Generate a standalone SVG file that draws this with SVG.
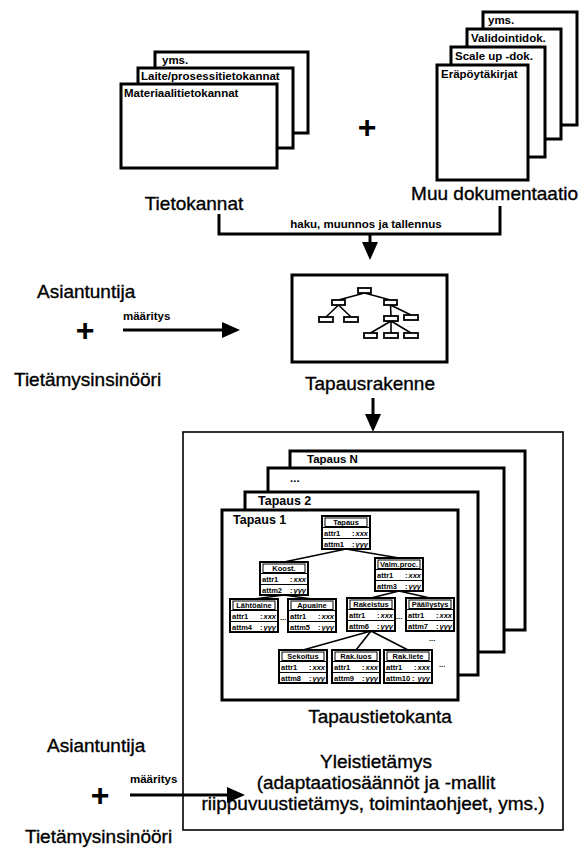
<svg xmlns="http://www.w3.org/2000/svg" width="580" height="849" viewBox="0 0 580 849">
<style>
text { font-family: "Liberation Sans", Arial, sans-serif; fill: #000; }
.lbl { font-size: 19px; stroke: #000; stroke-width: 0.35; }
.sm { font-size: 11.5px; font-weight: bold; }
.plus { font-size: 32px; font-weight: bold; text-anchor: middle; }
.page { fill: #fff; stroke: #000; stroke-width: 3; }
.outer { fill: none; stroke: #000; stroke-width: 1.6; }
.conn { fill: none; stroke: #000; stroke-width: 3; }
.mini { fill: #fff; stroke: #000; stroke-width: 1.8; }
.edge { fill: none; stroke: #000; stroke-width: 1.6; }
.no { fill: #fff; stroke: #000; stroke-width: 2; }
.ni { fill: none; stroke: #000; stroke-width: 1; }
.nl { stroke: #000; stroke-width: 1.2; }
.nt { font-size: 7.5px; font-weight: bold; text-anchor: middle; }
.na { font-size: 7.5px; font-weight: bold; }
.nr { font-size: 7.5px; font-weight: bold; text-anchor: end; font-style: italic; }
</style>
<defs>
<marker id="ah" markerUnits="userSpaceOnUse" markerWidth="18" markerHeight="16" refX="8" refY="8" orient="auto">
<path d="M0,0 L18,8 L0,16 z" fill="#000"/>
</marker>
<g id="nodeFrame">
<rect class="no" x="0" y="0" width="48" height="33"/>
<rect class="ni" x="3" y="2" width="42" height="8.5"/>
<line class="nl" x1="0" y1="11.5" x2="48" y2="11.5"/>
<line class="nl" x1="0" y1="22.5" x2="48" y2="22.5"/>
</g>
</defs>

<!-- Tietokannat stack -->
<g id="tietokannat">
<rect class="page" x="155" y="52" width="153" height="81"/>
<text class="sm" x="162" y="64">yms.</text>
<rect class="page" x="138" y="68" width="155" height="80"/>
<text class="sm" x="141" y="80">Laite/prosessitietokannat</text>
<rect class="page" x="121" y="84" width="156" height="84"/>
<text class="sm" x="124" y="97">Materiaalitietokannat</text>
<text class="lbl" x="194" y="210" text-anchor="middle">Tietokannat</text>
</g>

<text class="plus" x="367" y="138">+</text>

<!-- Muu dokumentaatio stack -->
<g id="muu-dokumentaatio">
<rect class="page" x="483" y="12" width="94" height="113"/>
<text class="sm" x="488" y="24">yms.</text>
<rect class="page" x="467" y="29" width="94" height="110"/>
<text class="sm" x="471" y="42">Validointidok.</text>
<rect class="page" x="451" y="47" width="94" height="110"/>
<text class="sm" x="455" y="60">Scale up -dok.</text>
<rect class="page" x="437" y="65" width="91" height="115"/>
<text class="sm" x="441" y="78">Eräpöytäkirjat</text>
<text class="lbl" x="578" y="200" text-anchor="end">Muu dokumentaatio</text>
</g>

<!-- Tapausrakenne -->
<g id="tapausrakenne">
<rect class="page" x="292" y="275" width="155" height="87"/>
<path class="edge" d="M364.5,293 L338.5,300 M364.5,293 L390.5,300 M338.5,305 L326,317 M338.5,305 L351,317 M390.5,305 L391,316 M390.5,305 L411,315 M391,321 L370.5,333 M391,321 L391,333 M391,321 L411,333"/>
<rect class="mini" x="358" y="288" width="13" height="5"/>
<rect class="mini" x="332" y="300" width="13" height="5"/>
<rect class="mini" x="384" y="300" width="13" height="5"/>
<rect class="mini" x="319" y="317" width="14" height="5"/>
<rect class="mini" x="344" y="317" width="14" height="5"/>
<rect class="mini" x="384" y="316" width="14" height="5"/>
<rect class="mini" x="404" y="315" width="14" height="5"/>
<rect class="mini" x="364" y="333" width="13" height="5"/>
<rect class="mini" x="384" y="333" width="14" height="5"/>
<rect class="mini" x="404" y="333" width="14" height="5"/>
<text x="408" y="327" style="font-size:5px;fill:#888">...</text>
<text class="lbl" x="370" y="390" text-anchor="middle">Tapausrakenne</text>
</g>

<!-- Experts (top) -->
<g id="asiantuntija-1">
<text class="lbl" x="37" y="298">Asiantuntija</text>
<text class="plus" x="85" y="341">+</text>
<text class="lbl" x="14" y="386">Tietämysinsinööri</text>
</g>

<!-- Outer knowledge base box -->
<g id="tietokanta">
<rect class="outer" x="183" y="432" width="380" height="398"/>
<rect class="page" x="290" y="451" width="235" height="179"/>
<text class="sm" x="307" y="463">Tapaus N</text>
<rect class="page" x="268" y="468" width="236" height="184"/>
<text class="sm" x="290" y="482">...</text>
<rect class="page" x="245" y="492" width="233" height="183"/>
<text class="sm" x="258" y="505" style="font-size:12.5px">Tapaus 2</text>
<rect class="page" x="222" y="510" width="236" height="190"/>
<text class="sm" x="233" y="524" style="font-size:12.5px">Tapaus 1</text>
<text class="lbl" x="380" y="723" text-anchor="middle">Tapaustietokanta</text>
<text class="lbl" x="376" y="768" text-anchor="middle">Yleistietämys</text>
<text class="lbl" x="376" y="789" text-anchor="middle">(adaptaatiosäännöt ja -mallit</text>
<text class="lbl" x="373" y="810" text-anchor="middle">riippuvuustietämys, toimintaohjeet, yms.)</text>
</g>

<!-- Tapaus 1 tree edges -->
<g id="tree-edges">
<path class="edge" d="M346,549 L284,562 M346,549 L399,558 M284,595 L254,599 M284,595 L312,599 M399,591 L371,598 M399,591 L430,598 M371,631 L303,650 M371,631 L356,650 M371,631 L408,650"/>
<text class="na" x="280" y="620">...</text>
<text class="na" x="396" y="619">...</text>
<text class="na" x="429" y="641">...</text>
<text class="na" x="439" y="667">...</text>
</g>

<g id="n-tapaus" transform="translate(322,516)">
<use href="#nodeFrame"/>
<text class="nt" x="24" y="9">Tapaus</text>
<text class="na" x="2" y="20">attr1</text><text class="na" x="30" y="20">:</text><text class="nr" x="46" y="20">xxx</text>
<text class="na" x="2" y="31">attm1</text><text class="na" x="30" y="31">:</text><text class="nr" x="46" y="31">yyy</text>
</g>
<g id="n-koost" transform="translate(260,562)">
<use href="#nodeFrame"/>
<text class="nt" x="24" y="9">Koost.</text>
<text class="na" x="2" y="20">attr1</text><text class="na" x="30" y="20">:</text><text class="nr" x="46" y="20">xxx</text>
<text class="na" x="2" y="31">attm2</text><text class="na" x="30" y="31">:</text><text class="nr" x="46" y="31">yyy</text>
</g>
<g id="n-valm" transform="translate(375,558)">
<use href="#nodeFrame"/>
<text class="nt" x="24" y="9">Valm.proc.</text>
<text class="na" x="2" y="20">attr1</text><text class="na" x="30" y="20">:</text><text class="nr" x="46" y="20">xxx</text>
<text class="na" x="2" y="31">attm3</text><text class="na" x="30" y="31">:</text><text class="nr" x="46" y="31">yyy</text>
</g>
<g id="n-lahtoaine" transform="translate(230,599)">
<use href="#nodeFrame"/>
<text class="nt" x="24" y="9">Lähtöaine</text>
<text class="na" x="2" y="20">attr1</text><text class="na" x="30" y="20">:</text><text class="nr" x="46" y="20">xxx</text>
<text class="na" x="2" y="31">attm4</text><text class="na" x="30" y="31">:</text><text class="nr" x="46" y="31">yyy</text>
</g>
<g id="n-apuaine" transform="translate(288,599)">
<use href="#nodeFrame"/>
<text class="nt" x="24" y="9">Apuaine</text>
<text class="na" x="2" y="20">attr1</text><text class="na" x="30" y="20">:</text><text class="nr" x="46" y="20">xxx</text>
<text class="na" x="2" y="31">attm5</text><text class="na" x="30" y="31">:</text><text class="nr" x="46" y="31">yyy</text>
</g>
<g id="n-rakeistus" transform="translate(347,598)">
<use href="#nodeFrame"/>
<text class="nt" x="24" y="9">Rakeistus</text>
<text class="na" x="2" y="20">attr1</text><text class="na" x="30" y="20">:</text><text class="nr" x="46" y="20">xxx</text>
<text class="na" x="2" y="31">attm6</text><text class="na" x="30" y="31">:</text><text class="nr" x="46" y="31">yyy</text>
</g>
<g id="n-paallystys" transform="translate(406,598)">
<use href="#nodeFrame"/>
<text class="nt" x="24" y="9">Päällystys</text>
<text class="na" x="2" y="20">attr1</text><text class="na" x="30" y="20">:</text><text class="nr" x="46" y="20">xxx</text>
<text class="na" x="2" y="31">attm7</text><text class="na" x="30" y="31">:</text><text class="nr" x="46" y="31">yyy</text>
</g>
<g id="n-sekoitus" transform="translate(279,650)">
<use href="#nodeFrame"/>
<text class="nt" x="24" y="9">Sekoitus</text>
<text class="na" x="2" y="20">attr1</text><text class="na" x="30" y="20">:</text><text class="nr" x="46" y="20">xxx</text>
<text class="na" x="2" y="31">attm8</text><text class="na" x="30" y="31">:</text><text class="nr" x="46" y="31">yyy</text>
</g>
<g id="n-rakluos" transform="translate(332,650)">
<use href="#nodeFrame"/>
<text class="nt" x="24" y="9">Rak.luos</text>
<text class="na" x="2" y="20">attr1</text><text class="na" x="30" y="20">:</text><text class="nr" x="46" y="20">xxx</text>
<text class="na" x="2" y="31">attm9</text><text class="na" x="30" y="31">:</text><text class="nr" x="46" y="31">yyy</text>
</g>
<g id="n-rakliete" transform="translate(384,650)">
<use href="#nodeFrame"/>
<text class="nt" x="24" y="9">Rak.liete</text>
<text class="na" x="2" y="20">attr1</text><text class="na" x="30" y="20">:</text><text class="nr" x="46" y="20">xxx</text>
<text class="na" x="2" y="31">attm10</text><text class="na" x="28" y="31">:</text><text class="nr" x="46" y="31">yyy</text>
</g>

<!-- Experts (bottom) -->
<g id="asiantuntija-2">
<text class="lbl" x="47" y="752">Asiantuntija</text>
<text class="plus" x="100" y="806">+</text>
<text class="lbl" x="25" y="843">Tietämysinsinööri</text>
</g>

<!-- Connectors -->
<g id="connectors">
<path class="conn" d="M219,214 V234 H500 V206"/>
<text class="sm" x="366" y="228" text-anchor="middle">haku, muunnos ja tallennus</text>
<line class="conn" x1="370" y1="234" x2="370" y2="250" marker-end="url(#ah)"/>
<line class="conn" x1="123" y1="330" x2="230" y2="330" marker-end="url(#ah)"/>
<text class="sm" x="123" y="320">määritys</text>
<line class="conn" x1="373" y1="398" x2="373" y2="422" marker-end="url(#ah)"/>
<line class="conn" x1="130" y1="795" x2="235" y2="795" marker-end="url(#ah)"/>
<text class="sm" x="130" y="783">määritys</text>
</g>
</svg>
